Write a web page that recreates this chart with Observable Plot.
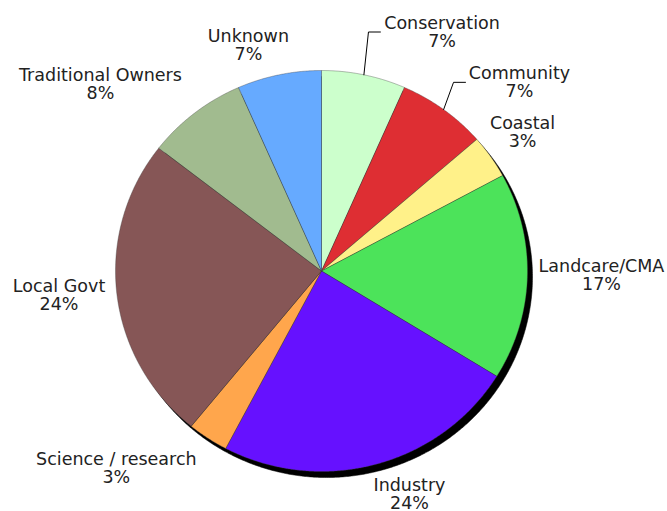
<!DOCTYPE html>
<html>
<head>
<meta charset="utf-8">
<script src="https://cdn.jsdelivr.net/npm/d3@7"></script>
<script src="https://cdn.jsdelivr.net/npm/@observablehq/plot@0.6"></script>
<style>
  html, body { margin: 0; padding: 0; background: #fff; }
  #chart svg { display: block; }
</style>
</head>
<body>
<div id="chart"></div>
<script>
// ---- data ----
const categories = ["Conservation", "Community", "Coastal", "Landcare/CMA", "Industry",
                    "Science / research", "Local Govt", "Traditional Owners", "Unknown"];
const shares = [6.6, 7.0, 3.5, 16.7, 23.9, 3.2, 24.6, 7.9, 6.6];
const pctLabels = ["7%", "7%", "3%", "17%", "24%", "3%", "24%", "8%", "7%"];
const colors = ["#CCFFCC", "#DE2E33", "#FFF189", "#4CE35A", "#6611FF",
                "#FFA64C", "#865656", "#A1BB8F", "#66AAFF"];

// ---- layout (label placement, in pie-radius units) ----
const labelX = [0.585, 0.961, 0.976, 1.359, 0.427, -0.996, -1.274, -1.073, -0.355];
const labelY = [1.192, 0.941, 0.692, -0.021, -1.112, -0.983, -0.120, 0.932, 1.127];
const leaderFor = ["Conservation", "Community"];
const leaderElbowX = [0.228, 0.641];
const leaderEndX = [0.286, 0.699];

// ---- geometry from d3.pie ----
const pie = d3.pie().sort(null).value(d => d)(shares);
const polys = [];
pie.forEach((p, i) => {
  const key = categories[i];
  polys.push({key, x: 0, y: 0});
  const n = Math.max(2, Math.ceil((p.endAngle - p.startAngle) / 0.005));
  for (let k = 0; k <= n; k++) {
    const a = p.startAngle + (p.endAngle - p.startAngle) * k / n;
    polys.push({key, x: Math.sin(a), y: Math.cos(a)});
  }
  polys.push({key, x: 0, y: 0});
});

// shadow ellipse (offset by a few pixels down-right)
const shadowDx = 5 / 206, shadowDy = -6 / 200.5;
const shadow = d3.range(0, 721).map(k => {
  const a = k / 720 * 2 * Math.PI;
  return {x: Math.sin(a) + shadowDx, y: Math.cos(a) + shadowDy};
});

// labels
const labels = categories.map((c, i) => ({text: c + "\n" + pctLabels[i], x: labelX[i], y: labelY[i]}));

// leader lines: from arc at slice mid-angle to elbow, then horizontal to label
const leaders = [];
leaderFor.forEach((name, j) => {
  const i = categories.indexOf(name);
  const p = pie[i];
  const mid = (p.startAngle + p.endAngle) / 2;
  leaders.push({g: j, x: Math.sin(mid), y: Math.cos(mid)});
  leaders.push({g: j, x: leaderElbowX[j], y: labelY[i]});
  leaders.push({g: j, x: leaderEndX[j], y: labelY[i]});
});

const chart = Plot.plot({
  width: 667,
  height: 511,
  marginLeft: 115,
  marginRight: 140,
  marginTop: 70,
  marginBottom: 40,
  x: {domain: [-1, 1], axis: null},
  y: {domain: [-1, 1], axis: null},
  color: {domain: categories, range: colors},
  style: {fontFamily: "DejaVu Sans, Verdana, sans-serif", background: "#fff", overflow: "visible"},
  marks: [
    Plot.line(shadow, {x: "x", y: "y", fill: "#000", stroke: "#000", strokeWidth: 0.5}),
    Plot.line(polys, {x: "x", y: "y", z: "key", fill: "key", stroke: "#3a3a3a", strokeWidth: 0.45, strokeOpacity: 0.8}),
    Plot.line(leaders, {x: "x", y: "y", z: "g", stroke: "#000", strokeWidth: 1}),
    Plot.text(labels, {x: "x", y: "y", text: "text", fontSize: 17.5, lineHeight: 1.04, fill: "#222", textAnchor: "middle"})
  ]
});
document.getElementById("chart").appendChild(chart);
</script>
</body>
</html>
